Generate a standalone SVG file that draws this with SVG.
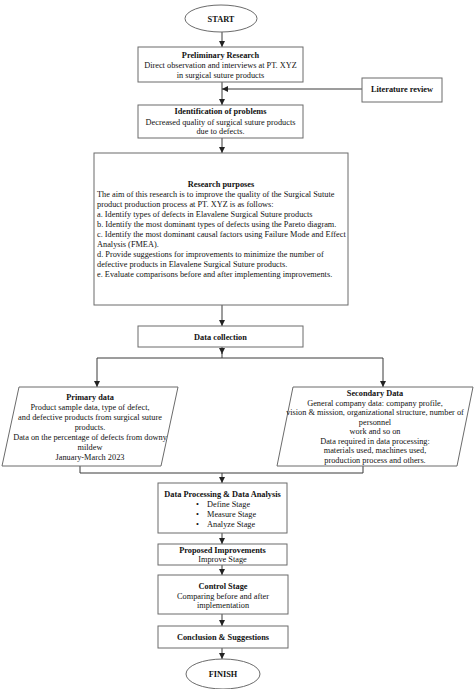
<svg xmlns="http://www.w3.org/2000/svg" width="474" height="689" viewBox="0 0 474 689">
<style>
.box{fill:#fff;stroke:#6b6b6b;stroke-width:1}
.ln{fill:none;stroke:#3a3a3a;stroke-width:1}
text{font-family:"Liberation Serif","Times New Roman",serif;font-size:8.3px;fill:#111}
.c{text-anchor:middle}
.b{font-weight:bold}
</style>
<defs>
<marker id="ah" markerUnits="userSpaceOnUse" markerWidth="6" markerHeight="6" viewBox="0 0 6 6" refX="6" refY="3" orient="auto">
<path d="M0,0 L6,3 L0,6 Z" fill="#222"/>
</marker>
</defs>
<rect width="474" height="689" fill="#fff"/>
<g id="connectors">
<path class="ln" d="M222,32 V47" marker-end="url(#ah)"/>
<path class="ln" d="M222,82 V105" marker-end="url(#ah)"/>
<path class="ln" d="M362,89 H222" marker-end="url(#ah)"/>
<path class="ln" d="M222,138 V153" marker-end="url(#ah)"/>
<path class="ln" d="M222,305 V326" marker-end="url(#ah)"/>
<path class="ln" d="M222,347 V354" marker-end="url(#ah)"/>
<path class="ln" d="M222,353 V358 M97,358 H383"/>
<path class="ln" d="M97,358 V387" marker-end="url(#ah)"/>
<path class="ln" d="M383,358 V387" marker-end="url(#ah)"/>
<path class="ln" d="M80,466 V473 H363 V466"/>
<path class="ln" d="M222,473 V483" marker-end="url(#ah)"/>
<path class="ln" d="M222,533 V544" marker-end="url(#ah)"/>
<path class="ln" d="M222,565 V575" marker-end="url(#ah)"/>
<path class="ln" d="M222,614 V626" marker-end="url(#ah)"/>
<path class="ln" d="M222,648 V659" marker-end="url(#ah)"/>
</g>
<g id="start">
<ellipse class="box" cx="221" cy="18.5" rx="36" ry="13.5"/>
<text class="c b" x="221" y="21.5">START</text>
</g>
<g id="preliminary">
<rect class="box" x="138" y="47" width="165" height="35"/>
<text class="c b" x="220.5" y="58">Preliminary Research</text>
<text class="c" x="220.5" y="68">Direct observation and interviews at PT. XYZ</text>
<text class="c" x="220.5" y="78">in surgical suture products</text>
</g>
<g id="literature">
<rect class="box" x="362" y="78" width="80" height="24"/>
<text class="c b" x="402" y="92">Literature review</text>
</g>
<g id="identification">
<rect class="box" x="138" y="105" width="165" height="33"/>
<text class="c b" x="220.5" y="114">Identification of problems</text>
<text class="c" x="220.5" y="124.5">Decreased quality of surgical suture products</text>
<text class="c" x="220.5" y="134">due to defects.</text>
</g>
<g id="research">
<rect class="box" x="94" y="153" width="254" height="152"/>
<text class="c b" x="221" y="187">Research purposes</text>
<text x="97" y="196.5">The aim of this research is to improve the quality of the Surgical Sutute</text>
<text x="97" y="206.5">product production process at PT. XYZ is as follows:</text>
<text x="97" y="216.5">a. Identify types of defects in Elavalene Surgical Suture products</text>
<text x="97" y="226.5">b. Identify the most dominant types of defects using the Pareto diagram.</text>
<text x="97" y="237">c. Identify the most dominant causal factors using Failure Mode and Effect</text>
<text x="97" y="246.5">Analysis (FMEA).</text>
<text x="97" y="257">d. Provide suggestions for improvements to minimize the number of</text>
<text x="97" y="266.5">defective products in Elavalene Surgical Suture products.</text>
<text x="97" y="276.5">e. Evaluate comparisons before and after implementing improvements.</text>
</g>
<g id="datacollection">
<rect class="box" x="138" y="326" width="165" height="21"/>
<text class="c b" x="220.5" y="339.5">Data collection</text>
</g>
<g id="primary">
<polygon class="box" points="19,387 178,387 161,466 2,466"/>
<text class="c b" x="90" y="400">Primary data</text>
<text class="c" x="90" y="410">Product sample data, type of defect,</text>
<text class="c" x="90" y="420">and defective products from surgical suture</text>
<text class="c" x="90" y="430">products.</text>
<text class="c" x="90" y="439.5">Data on the percentage of defects from downy</text>
<text class="c" x="90" y="449.5">mildew</text>
<text class="c" x="90" y="459.5">January-March 2023</text>
</g>
<g id="secondary">
<polygon class="box" points="293,387 473,387 457,466 277,466"/>
<text class="c b" x="375" y="396">Secondary Data</text>
<text class="c" x="375" y="405.5">General company data: company profile,</text>
<text class="c" x="375" y="415">vision &amp; mission, organizational structure, number of</text>
<text class="c" x="375" y="424.5">personnel</text>
<text class="c" x="375" y="434">work and so on</text>
<text class="c" x="375" y="443.5">Data required in data processing:</text>
<text class="c" x="375" y="453">materials used, machines used,</text>
<text class="c" x="375" y="462.5">production process and others.</text>
</g>
<g id="dataprocessing">
<rect class="box" x="158" y="483" width="129" height="50"/>
<text class="c b" x="222.5" y="497">Data Processing &amp; Data Analysis</text>
<text x="196" y="507">•</text><text x="207" y="507">Define Stage</text>
<text x="196" y="517">•</text><text x="207" y="517">Measure Stage</text>
<text x="196" y="526.5">•</text><text x="207" y="526.5">Analyze Stage</text>
</g>
<g id="proposed">
<rect class="box" x="158" y="544" width="129" height="21"/>
<text class="c b" x="222.5" y="552.5">Proposed Improvements</text>
<text class="c" x="222.5" y="562">Improve Stage</text>
</g>
<g id="control">
<rect class="box" x="158" y="575" width="130" height="39"/>
<text class="c b" x="223" y="589">Control Stage</text>
<text class="c" x="223" y="599">Comparing before and after</text>
<text class="c" x="223" y="608">implementation</text>
</g>
<g id="conclusion">
<rect class="box" x="158" y="626" width="130" height="22"/>
<text class="c b" x="223" y="640">Conclusion &amp; Suggestions</text>
</g>
<g id="finish">
<ellipse class="box" cx="223" cy="674" rx="37" ry="15"/>
<text class="c b" x="223" y="677">FINISH</text>
</g>
</svg>
